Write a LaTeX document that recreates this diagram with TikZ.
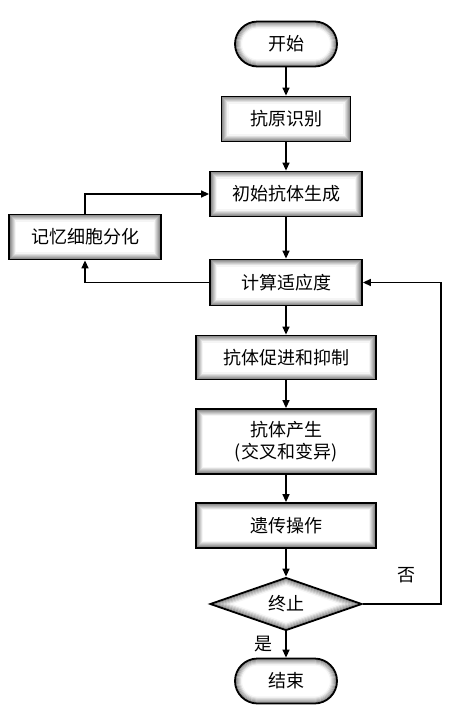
\documentclass[tikz,border=0pt]{standalone}
\usepackage{fontspec}
\usepackage{tikz}
\usetikzlibrary{shapes.geometric,arrows.meta,positioning,calc}
\newfontfamily\cjk{Noto Sans CJK SC}
\tikzset{
  glow/.style={fill=white, path picture={
    \foreach \i [evaluate=\i as \c using int(52-8*\i)] in {0,...,6}{
      \pgfmathsetmacro\r{max(#1-\i,0)}
      \draw[line width=1.1pt, black!\c, rounded corners=\r pt]
        ([shift={(\i*1pt+0.5pt,-\i*1pt-0.5pt)}]path picture bounding box.north west) rectangle
        ([shift={(-\i*1pt-0.5pt,\i*1pt+0.5pt)}]path picture bounding box.south east);}}},
  glow/.default=0,
  glowdiamond/.style={fill=white, path picture={
    \foreach \i [evaluate=\i as \c using int(52-8*\i), evaluate=\i as \f using 1-0.02-0.042*\i] in {0,...,6}
      \draw[line width=1.1pt, black!\c]
        ($(path picture bounding box.center)!\f!(path picture bounding box.north)$) --
        ($(path picture bounding box.center)!\f!(path picture bounding box.east)$) --
        ($(path picture bounding box.center)!\f!(path picture bounding box.south)$) --
        ($(path picture bounding box.center)!\f!(path picture bounding box.west)$) -- cycle;}}
}

\begin{document}
\begin{tikzpicture}[node distance=75pt, x=1pt, y=1pt, font=\cjk\fontsize{18}{22}\selectfont, >={Triangle[length=8pt,width=7pt]}]
\useasboundingbox (0,0) rectangle (463,-710);
% Start
\node[draw,rectangle, line width=1.8pt, minimum height=45pt, minimum width=102pt, rounded corners=22.5pt, glow=22] (start) at (286,-44) {开始};
% Steps
\node[draw,rectangle, below of=start, line width=1.8pt, minimum height=45pt, minimum width=129pt, glow] (antigen) {抗原识别};
\node[draw,rectangle, below of=antigen, line width=1.8pt, minimum height=45pt, minimum width=152pt, glow] (init) {初始抗体生成};
\node[draw,rectangle, below of=init, line width=1.8pt, minimum height=46pt, minimum width=152pt, glow, yshift=-13.5pt] (fitness) {计算适应度};
\node[draw,rectangle, line width=1.8pt, minimum height=45pt, minimum width=152pt, glow] (memory) at (85,-237) {记忆细胞分化};
\node[draw,rectangle, below of=fitness, line width=1.8pt, minimum height=44pt, minimum width=180pt, glow] (promote) {抗体促进和抑制};
\node[draw,rectangle, below of=promote, line width=1.8pt, minimum height=65pt, minimum width=180pt, glow, yshift=-9pt, align=center] (produce) {抗体产生\\(交叉和变异)};
\node[draw,rectangle, below of=produce, line width=1.8pt, minimum height=45pt, minimum width=180pt, glow, yshift=-9pt] (genetic) {遗传操作};
% Decision
\node[draw,diamond, below of=genetic, line width=1.8pt, minimum height=53pt, minimum width=152pt, inner sep=0pt, glowdiamond, yshift=-3.5pt] (stop) {终止};
% End
\node[draw,rectangle, below of=stop, line width=1.8pt, minimum height=45pt, minimum width=102pt, rounded corners=22.5pt, glow=22, yshift=-2pt] (end) {结束};
% Arrows
\draw[->, line width=1.4pt] (start) -- (antigen);
\draw[->, line width=1.4pt] (antigen) -- (init);
\draw[->, line width=1.4pt] (init) -- (fitness);
\draw[->, line width=1.4pt] (fitness) -- (promote);
\draw[->, line width=1.4pt] (promote) -- (produce);
\draw[->, line width=1.4pt] (produce) -- (genetic);
\draw[->, line width=1.4pt] (genetic) -- (stop);
\draw[->, line width=1.4pt] (stop) -- node[left=9pt] {是} (end);
\draw[->, line width=1.4pt] (fitness.west) -| (memory.south);
\draw[->, line width=1.4pt] (memory.north) |- (init.west);
\draw[->, line width=1.4pt] (stop.east) -- node[above=17pt, pos=0.56] {否} ++(78,0) |- (fitness.east);
\end{tikzpicture}
\end{document}
